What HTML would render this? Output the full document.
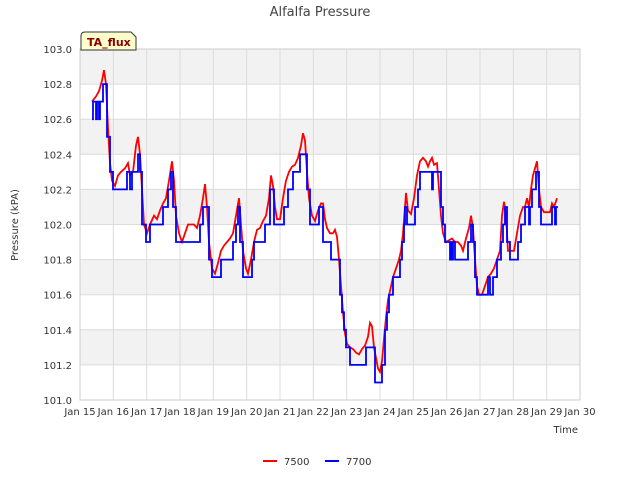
<!DOCTYPE html>
<html><head><meta charset="utf-8"><style>
body{margin:0;background:#fff;font-family:"Liberation Sans","DejaVu Sans",sans-serif;}
svg text{font-family:"DejaVu Sans","Liberation Sans",sans-serif;}
</style></head><body>
<svg id="c" width="640" height="480" xmlns="http://www.w3.org/2000/svg"></svg>
<script>
const xTickLabels=["Jan 15","Jan 16","Jan 17","Jan 18","Jan 19","Jan 20","Jan 21","Jan 22","Jan 23","Jan 24","Jan 25","Jan 26","Jan 27","Jan 28","Jan 29","Jan 30"];
const yTicks=[101.0,101.2,101.4,101.6,101.8,102.0,102.2,102.4,102.6,102.8,103.0];
const redT=[.36,.48,.57,.66,.72,.78,.84,.90,.96,1.05,1.14,1.23,1.35,1.44,1.50,1.59,1.68,1.74,1.80,1.86,1.92,2.01,2.10,2.22,2.31,2.40,2.49,2.58,2.67,2.76,2.82,2.88,2.97,3.06,3.15,3.24,3.33,3.42,3.51,3.60,3.69,3.75,3.81,3.87,3.96,4.05,4.14,4.23,4.32,4.41,4.50,4.59,4.68,4.77,4.83,4.89,4.98,5.04,5.13,5.22,5.31,5.40,5.49,5.58,5.67,5.73,5.79,5.85,5.91,6.00,6.09,6.18,6.27,6.36,6.45,6.54,6.63,6.69,6.75,6.81,6.87,6.96,7.05,7.14,7.23,7.29,7.35,7.41,7.50,7.59,7.65,7.71,7.77,7.83,7.89,7.95,8.01,8.10,8.19,8.28,8.37,8.46,8.55,8.64,8.70,8.76,8.82,8.88,8.94,9.00,9.06,9.12,9.18,9.24,9.30,9.39,9.48,9.57,9.63,9.69,9.75,9.78,9.84,9.93,10.02,10.11,10.20,10.29,10.38,10.44,10.50,10.56,10.62,10.71,10.77,10.83,10.89,10.98,11.07,11.16,11.25,11.34,11.43,11.49,11.58,11.67,11.73,11.79,11.85,11.91,11.97,12.06,12.15,12.24,12.33,12.42,12.51,12.60,12.66,12.72,12.78,12.84,12.93,13.02,13.11,13.20,13.29,13.35,13.41,13.47,13.53,13.59,13.65,13.71,13.77,13.83,13.92,14.01,14.10,14.16,14.22,14.31];
const redV=[102.70,102.73,102.76,102.82,102.88,102.80,102.55,102.35,102.25,102.22,102.28,102.30,102.32,102.35,102.28,102.30,102.45,102.50,102.40,102.20,102.00,101.95,102.00,102.05,102.03,102.08,102.12,102.15,102.25,102.36,102.25,102.05,101.95,101.90,101.95,102.00,102.00,102.00,101.98,102.05,102.15,102.23,102.10,101.90,101.75,101.72,101.78,101.85,101.88,101.90,101.92,101.95,102.05,102.15,102.00,101.85,101.75,101.72,101.80,101.90,101.97,101.98,102.02,102.05,102.15,102.28,102.22,102.10,102.03,102.03,102.15,102.25,102.30,102.33,102.34,102.38,102.45,102.52,102.48,102.30,102.15,102.05,102.02,102.08,102.12,102.12,102.03,101.98,101.95,101.95,101.97,101.93,101.80,101.65,101.50,101.38,101.32,101.30,101.29,101.27,101.26,101.29,101.31,101.36,101.44,101.42,101.30,101.24,101.18,101.16,101.22,101.35,101.47,101.57,101.62,101.70,101.75,101.80,101.85,101.95,102.10,102.18,102.08,102.06,102.15,102.28,102.36,102.38,102.36,102.33,102.36,102.38,102.34,102.35,102.20,102.05,101.95,101.90,101.91,101.92,101.90,101.90,101.88,101.85,101.92,101.98,102.05,101.98,101.80,101.65,101.60,101.60,101.65,101.70,101.72,101.75,101.80,101.85,102.05,102.13,102.05,101.85,101.85,101.85,101.95,102.05,102.10,102.10,102.15,102.10,102.20,102.28,102.32,102.36,102.20,102.10,102.07,102.07,102.07,102.12,102.10,102.15];
const blueT=[.36,.39,.48,.51,.57,.60,.69,.81,.90,.99,1.41,1.50,1.56,1.74,1.80,1.86,1.98,2.10,2.49,2.64,2.73,2.79,2.88,3.60,3.69,3.87,3.96,4.23,4.59,4.68,4.74,4.80,4.89,5.16,5.22,5.55,5.70,5.82,6.12,6.24,6.39,6.60,6.81,6.90,7.17,7.29,7.53,7.80,7.86,7.92,7.98,8.10,8.58,8.85,9.06,9.15,9.21,9.27,9.39,9.60,9.66,9.72,9.75,9.81,10.05,10.14,10.20,10.56,10.59,10.83,10.89,10.95,11.10,11.13,11.16,11.19,11.25,11.64,11.73,11.79,11.85,11.91,12.24,12.30,12.39,12.51,12.63,12.69,12.75,12.81,12.90,13.14,13.23,13.35,13.47,13.50,13.56,13.68,13.77,13.83,14.16,14.25,14.28,14.34];
const blueV=[102.6,102.7,102.6,102.7,102.6,102.7,102.8,102.5,102.3,102.2,102.3,102.2,102.3,102.4,102.3,102.0,101.9,102.0,102.1,102.2,102.3,102.1,101.9,102.0,102.1,101.8,101.7,101.8,101.9,102.0,102.1,101.9,101.7,101.8,101.9,102.0,102.2,102.0,102.1,102.2,102.3,102.4,102.2,102.0,102.1,101.9,101.8,101.6,101.5,101.4,101.3,101.2,101.3,101.1,101.2,101.4,101.5,101.6,101.7,101.8,101.9,102.0,102.1,102.0,102.1,102.2,102.3,102.2,102.3,102.1,102.0,101.9,101.8,101.9,101.8,101.9,101.8,101.9,102.0,101.9,101.7,101.6,101.7,101.6,101.7,101.8,101.9,102.0,102.1,101.9,101.8,101.9,102.0,102.1,102.0,102.1,102.2,102.3,102.1,102.0,102.1,102.0,102.1,102.1];

const L=80,R=580,T=49,B=400,ymin=101,ymax=103;
const xs=d=>L+(R-L)*d/15;
const ys=v=>B-(B-T)*(v-ymin)/(ymax-ymin);
const svg=document.getElementById('c');const NS='http://www.w3.org/2000/svg';
function mk(tag,at,txt){const e=document.createElementNS(NS,tag);for(const k in at)e.setAttribute(k,at[k]);if(txt!=null)e.textContent=txt;svg.appendChild(e);return e;}
let e;
e=mk('rect',{x:L,y:T,width:R-L,height:B-T,fill:'#fff'});


for(let i=0;i<yTicks.length-1;i++){if(i%2===1){e=mk('rect',{x:L,y:ys(yTicks[i+1]),width:R-L,height:ys(yTicks[i])-ys(yTicks[i+1]),fill:'#f2f2f2'});

}}
yTicks.forEach(v=>{e=mk('line',{x1:L,x2:R,y1:ys(v),y2:ys(v),stroke:'#dcdcdc','stroke-width':1});


e=mk('text',{x:L-8,y:ys(v)+4,'text-anchor':'end','font-size':10,fill:'#333'},v.toFixed(1));

});
xTickLabels.forEach((s,i)=>{e=mk('line',{x1:xs(i),x2:xs(i),y1:T,y2:B,stroke:'#dcdcdc','stroke-width':1});


e=mk('text',{x:xs(i),y:B+15,'text-anchor':'middle','font-size':10,fill:'#333'},s);

});
e=mk('rect',{x:L,y:T,width:R-L,height:B-T,fill:'none',stroke:'#ccc'});


let d='';redT.forEach((t,i)=>{d+=(i?'L':'M')+xs(t).toFixed(1)+' '+ys(redV[i]).toFixed(1);});
e=mk('path',{d:d,fill:'none',stroke:'#ff0000','stroke-width':1.8});


d='';blueT.forEach((t,i)=>{const x=xs(t).toFixed(1),y=ys(blueV[i]).toFixed(1);d+=i?('H'+x+'V'+y):('M'+x+' '+y);});
e=mk('path',{d:d,fill:'none',stroke:'#0000ff','stroke-width':1.8});


e=mk('text',{x:320,y:16,'text-anchor':'middle','font-size':13,fill:'#444'},'Alfalfa Pressure');


e=mk('text',{x:578,y:433,'text-anchor':'end','font-size':10,fill:'#333'},'Time');


e=mk('text',{x:18,y:225,'text-anchor':'middle','font-size':10,fill:'#333',transform:'rotate(-90 18 225)'},'Pressure (kPA)');


e=mk('path',{d:'M81 50 V36 Q81 32 85 32 H131 L136 37 V50 Z',fill:'#ffffcc',stroke:'#333'});


e=mk('text',{x:87,y:46,'font-size':11,'font-weight':'bold',fill:'#8b0000'},'TA_flux');


e=mk('line',{x1:263,x2:277,y1:461,y2:461,stroke:'#ff0000','stroke-width':2});


e=mk('text',{x:284,y:465,'font-size':10,fill:'#333'},'7500');


e=mk('line',{x1:325,x2:339,y1:461,y2:461,stroke:'#0000ff','stroke-width':2});


e=mk('text',{x:346,y:465,'font-size':10,fill:'#333'},'7700');


</script>
</body></html>
